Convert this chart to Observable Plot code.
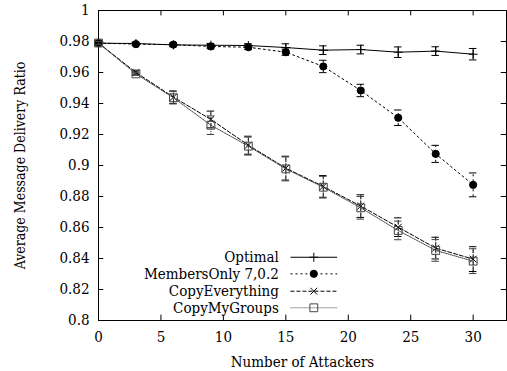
<!DOCTYPE html>
<html>
<head>
<meta charset="utf-8">
<script src="https://cdn.jsdelivr.net/npm/d3@7"></script>
<script src="https://cdn.jsdelivr.net/npm/@observablehq/plot@0.6"></script>
<style>
  html, body { margin: 0; padding: 0; background: #fff; }
  #chart svg { display: block; }
  #chart svg text { font-stretch: condensed; }
</style>
</head>
<body>
<div id="chart"></div>
<script>
const attackers = [0, 3, 6, 9, 12, 15, 18, 21, 24, 27, 30];
const optimal = [0.9789, 0.9787, 0.9778, 0.9776, 0.9774, 0.9761, 0.9744, 0.9748, 0.9731, 0.9738, 0.9718];
const optimalErr = [0.001, 0.001, 0.0012, 0.0012, 0.0012, 0.0024, 0.0028, 0.0028, 0.0034, 0.0028, 0.0037];
const membersOnly = [0.979, 0.9783, 0.978, 0.9768, 0.9763, 0.9731, 0.9639, 0.9484, 0.9308, 0.9075, 0.8875];
const membersOnlyErr = [0.001, 0.001, 0.001, 0.0015, 0.0015, 0.002, 0.004, 0.004, 0.005, 0.0055, 0.0077];
const copyEverything = [0.979, 0.96, 0.9441, 0.9297, 0.9131, 0.8983, 0.8865, 0.8738, 0.8602, 0.8467, 0.8396];
const copyEverythingErr = [0.001, 0.001, 0.004, 0.0054, 0.0058, 0.0077, 0.007, 0.0073, 0.006, 0.007, 0.008];
const copyMyGroups = [0.979, 0.9591, 0.9437, 0.926, 0.9125, 0.8978, 0.886, 0.8727, 0.8581, 0.8452, 0.8383];
const copyMyGroupsErr = [0.001, 0.001, 0.004, 0.006, 0.0058, 0.0077, 0.007, 0.0073, 0.006, 0.007, 0.008];

const seriesNames = ["Optimal", "MembersOnly 7,0.2", "CopyEverything", "CopyMyGroups"];
const xTicks = [0, 5, 10, 15, 20, 25, 30];
const yTicks = [0.8, 0.82, 0.84, 0.86, 0.88, 0.9, 0.92, 0.94, 0.96, 0.98, 1];
const xLabel = "Number of Attackers";
const yLabel = "Average Message Delivery Ratio";

const FONT = "'DejaVu Serif Condensed', 'DejaVu Serif', serif";
const FS = 15;
const xMax = 32.67;
const capHalf = 0.3;

const styles = [
  {symbol: "plus", r: 3, fill: "none", dash: null, stroke: "black"},
  {symbol: "circle", r: 3.6, fill: "black", dash: "2,3", stroke: "black"},
  {symbol: "times", r: 3.2, fill: "none", dash: "4,2", stroke: "black"},
  {symbol: "square2", r: 5, fill: "none", dash: "1,1", stroke: "#444"}
];
const values = [optimal, membersOnly, copyEverything, copyMyGroups];
const errs = [optimalErr, membersOnlyErr, copyEverythingErr, copyMyGroupsErr];

const series = seriesNames.map((name, i) =>
  attackers.map((x, j) => ({x, y: values[i][j], lo: values[i][j] - errs[i][j], hi: values[i][j] + errs[i][j]}))
);

// legend layout in data units
const legendTextX = 14.44, legendLine1 = 15.37, legendLine2 = 19.11, legendMarkX = 17.24;
const legendYs = [0.8408, 0.8301, 0.8189, 0.8082];
const legend = seriesNames.map((name, i) => ({name, i, y: legendYs[i]}));

const marks = [
  Plot.frame({stroke: "black", strokeWidth: 1}),
  // inward ticks
  Plot.ruleX(xTicks, {x: d => d, y1: 0.8, y2: 0.8035, stroke: "black"}),
  Plot.ruleX(xTicks, {x: d => d, y1: 1, y2: 0.9965, stroke: "black"}),
  Plot.ruleY(yTicks, {y: d => d, x1: 0, x2: 0.42, stroke: "black"}),
  Plot.ruleY(yTicks, {y: d => d, x1: xMax, x2: xMax - 0.42, stroke: "black"}),
  Plot.axisX({ticks: xTicks, tickSize: 0, tickPadding: 11, fontSize: FS, fontFamily: FONT, label: null}),
  Plot.axisY({ticks: yTicks, tickSize: 0, tickPadding: 9, fontSize: FS, fontFamily: FONT, label: null, tickFormat: d => String(+d.toFixed(2))}),
  Plot.text([yLabel], {frameAnchor: "left", textAnchor: "middle", rotate: -90, dx: -78, fontSize: 14, fontFamily: FONT, text: d => d}),
  Plot.text([xLabel], {frameAnchor: "bottom", dy: 42, fontSize: FS, fontFamily: FONT, text: d => d, lineAnchor: "middle"})
];

series.forEach((data, i) => {
  const s = styles[i];
  marks.push(
    Plot.line(data, {x: "x", y: "y", stroke: s.stroke, strokeWidth: 1, strokeDasharray: s.dash}),
    Plot.ruleX(data, {x: "x", y1: "lo", y2: "hi", stroke: s.stroke, strokeWidth: 1, strokeDasharray: s.dash}),
    Plot.ruleY(data, {y: "lo", x1: d => d.x - capHalf, x2: d => d.x + capHalf, stroke: s.stroke, strokeWidth: 1}),
    Plot.ruleY(data, {y: "hi", x1: d => d.x - capHalf, x2: d => d.x + capHalf, stroke: s.stroke, strokeWidth: 1}),
    Plot.dot(data, {x: "x", y: "y", symbol: s.symbol, r: s.r, fill: s.fill, stroke: s.stroke, strokeWidth: 1})
  );
});

legend.forEach(d => {
  const s = styles[d.i];
  marks.push(
    Plot.text([d], {x: legendTextX, y: "y", text: "name", textAnchor: "end", lineAnchor: "middle", fontSize: FS, fontFamily: FONT}),
    Plot.link([d], {x1: legendLine1, x2: legendLine2, y1: "y", y2: "y", stroke: s.stroke, strokeWidth: 1, strokeDasharray: s.dash}),
    Plot.dot([d], {x: legendMarkX, y: "y", symbol: s.symbol, r: s.r, fill: s.fill, stroke: s.stroke, strokeWidth: 1})
  );
});

const chart = Plot.plot({
  width: 507,
  height: 371,
  marginLeft: 98,
  marginRight: 1,
  marginTop: 10,
  marginBottom: 51,
  style: "background: white; color: black;",
  x: {domain: [0, xMax]},
  y: {domain: [0.8, 1]},
  marks
});
document.getElementById("chart").appendChild(chart);
</script>
</body>
</html>
